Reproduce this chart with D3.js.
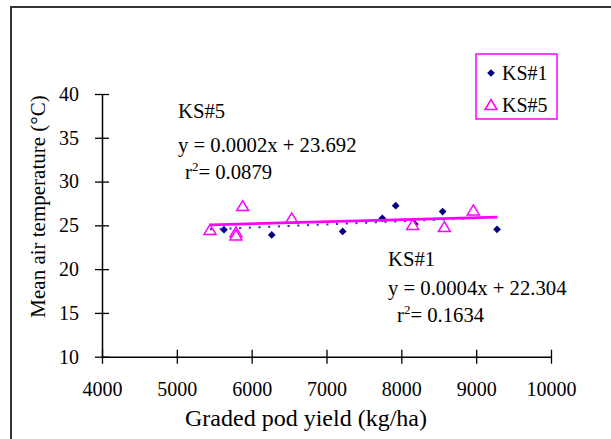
<!DOCTYPE html>
<html><head><meta charset="utf-8">
<script src="https://cdn.jsdelivr.net/npm/d3@7"></script>
<style>body{margin:0;background:#fff}svg{display:block}text{font-family:"Liberation Serif","Times New Roman",serif;fill:#000}</style>
</head><body><div id="chart"></div>
<script>
// ---- data ----
const xTicks = [4000, 5000, 6000, 7000, 8000, 9000, 10000];
const yTicks = [10, 15, 20, 25, 30, 35, 40];
const seriesNames = ["KS#1", "KS#5"];
const ks1X = [5630, 6268, 7216, 7746, 7925, 8180, 8552, 9279];
const ks1Y = [24.5, 23.9, 24.3, 25.8, 27.25, 25.15, 26.57, 24.55];
const ks5X = [5443, 5790, 5790, 5880, 6535, 8152, 8575, 8962];
const ks5Y = [24.48, 24.2, 23.85, 27.2, 25.8, 25.05, 24.8, 26.7];
// trend lines as drawn (slope, intercept) and their x span
const ks1Trend = [0.00036, 22.59];
const ks5Trend = [0.00023, 23.80];
const trendSpan = [5443, 9285];
const ks5Label = ["KS#5", "y = 0.0002x + 23.692", "0.0879"];
const ks1Label = ["KS#1", "y = 0.0004x + 22.304", "0.1634"];
const xTitle = "Graded pod yield (kg/ha)";
const yTitle = "Mean air temperature (°C)";

const W = 611, H = 439;
const svg = d3.select("#chart").append("svg").attr("width", W).attr("height", H);

// chart frame
svg.append("rect").attr("x", 11).attr("y", 7).attr("width", 620).attr("height", 450)
  .attr("fill", "none").attr("stroke", "#333").attr("stroke-width", 2);

const x = d3.scaleLinear().domain([4000, 10000]).range([102, 551]);
const y = d3.scaleLinear().domain([10, 40]).range([356.7, 94]);

// axes
const xAxis = d3.axisBottom(x).tickValues(xTicks).tickSizeInner(7).tickSizeOuter(0).tickPadding(18).tickFormat(d3.format("d"));
const gx = svg.append("g").attr("transform", `translate(0,${y(10)})`).call(xAxis);
gx.selectAll(".tick line").attr("y1", -7).attr("y2", 7);
const yAxis = d3.axisLeft(y).tickValues(yTicks).tickSizeInner(7).tickSizeOuter(0).tickPadding(16);
const gy = svg.append("g").attr("transform", `translate(${x(4000)},0)`).call(yAxis);
gy.selectAll(".tick line").attr("x1", -7).attr("x2", 7);
[gx, gy].forEach(g => {
  g.attr("font-family", null).attr("font-size", null);
  g.select(".domain").attr("stroke", "#000").attr("stroke-width", 1.5);
  g.selectAll(".tick line").attr("stroke", "#000").attr("stroke-width", 1.3);
  g.selectAll(".tick text").style("font-family", '"Liberation Serif",serif').style("font-size", "20px").attr("fill", "#000");
});

// titles
svg.append("text").attr("x", 306).attr("y", 426).attr("text-anchor", "middle")
  .style("font-size", "24px").text(xTitle);
svg.append("text").attr("transform", `translate(45,${206.5}) rotate(-90)`).attr("text-anchor", "middle")
  .style("font-size", "21px").text(yTitle);

// markers
const ks1 = ks1X.map((v, i) => [v, ks1Y[i]]);
const ks5 = ks5X.map((v, i) => [v, ks5Y[i]]);

svg.append("g").selectAll("path").data(ks1).join("path")
  .attr("d", d3.symbol().type(d3.symbolSquare).size(30)())
  .attr("transform", d => `translate(${x(d[0])},${y(d[1])}) rotate(45)`)
  .attr("fill", "#000080");

const tri = "M0,-5.5L6,4.5L-6,4.5Z";
svg.append("g").selectAll("path").data(ks5).join("path")
  .attr("d", tri)
  .attr("transform", d => `translate(${x(d[0])},${y(d[1])})`)
  .attr("fill", "#fff").attr("stroke", "#ff00ff").attr("stroke-width", 1.5);

// trend lines
const line = d3.line().x(d => x(d[0])).y(d => y(d[1]));
const tr = t => trendSpan.map(v => [v, t[0] * v + t[1]]);
svg.append("path").attr("d", line(tr(ks1Trend))).attr("fill", "none")
  .attr("stroke", "#3434d8").attr("stroke-width", 2).attr("stroke-dasharray", "2.2,7.5");
svg.append("path").attr("d", line(tr(ks5Trend))).attr("fill", "none")
  .attr("stroke", "#ff00ff").attr("stroke-width", 2.8);

// annotations
function annot(lbl, x0, yb, rx) {
  const g = svg.append("g").style("font-size", "20.7px");
  g.append("text").attr("x", x0).attr("y", yb[0]).text(lbl[0]);
  g.append("text").attr("x", x0).attr("y", yb[1]).text(lbl[1]);
  const t = g.append("text").attr("x", rx).attr("y", yb[2]);
  t.append("tspan").text("r");
  t.append("tspan").attr("dy", -8).style("font-size", "13px").text("2");
  t.append("tspan").attr("dy", 8).text("= " + lbl[2]);
}
annot(ks5Label, 178, [118, 152, 179], 185);
annot(ks1Label, 388, [266, 295, 322], 397);

// legend
const lg = svg.append("g");
lg.append("rect").attr("x", 476).attr("y", 54).attr("width", 81).attr("height", 65)
  .attr("fill", "#fff").attr("stroke", "#ff00ff").attr("stroke-width", 1.5);
lg.append("path").attr("d", d3.symbol().type(d3.symbolSquare).size(30)())
  .attr("transform", "translate(491,73) rotate(45)").attr("fill", "#000080");
lg.append("path").attr("d", tri).attr("transform", "translate(491,105)")
  .attr("fill", "#fff").attr("stroke", "#ff00ff").attr("stroke-width", 1.5);
lg.selectAll("text").data(seriesNames).join("text")
  .attr("x", 502).attr("y", (d, i) => 80 + i * 32).style("font-size", "20px").text(d => d);
</script></body></html>
